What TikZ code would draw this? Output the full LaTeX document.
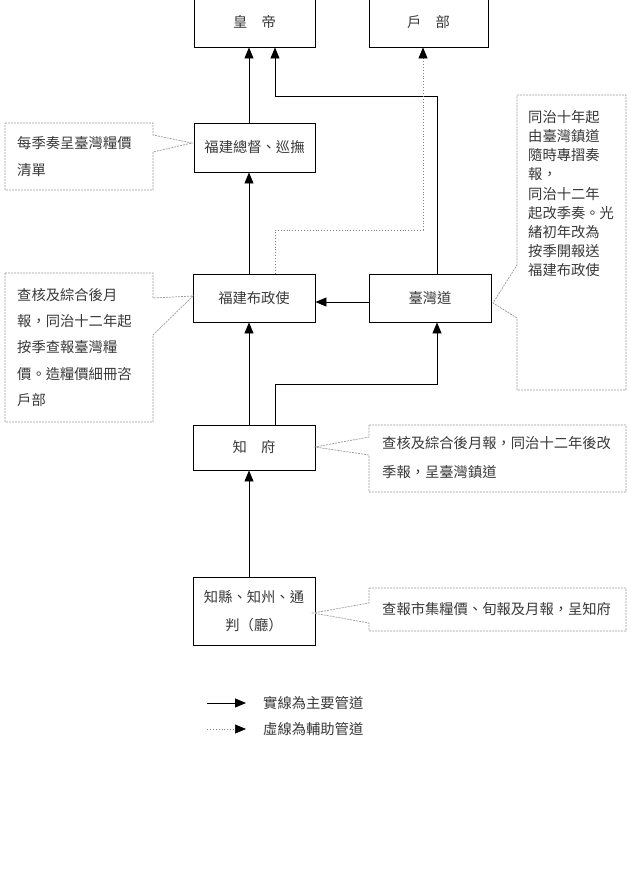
\documentclass[tikz,border=0pt]{standalone}
\usepackage{fontspec}
\newfontfamily\cjk{Noto Sans CJK TC}
\usetikzlibrary{arrows.meta}
\definecolor{txt}{HTML}{383838}
\begin{document}
\begin{tikzpicture}[x=1pt,y=-1pt,
  box/.style={draw, line width=0.9pt, inner sep=0pt, align=center, text=txt,
    font=\cjk\fontsize{14.3}{28}\selectfont},
  arr/.style={-{Triangle[length=11pt,width=9pt,color=black]}, line width=0.9pt},
  dotarr/.style={arr, draw=gray, dotted, line width=0.7pt},
  callout/.style={draw=gray!80, dash pattern=on 2pt off 1pt, line width=0.7pt},
  note/.style={anchor=north west, inner sep=0pt, align=left, text=txt},
  legtext/.style={anchor=west, inner sep=0pt, text=txt, font=\cjk\fontsize{14.3}{16}\selectfont}]
\useasboundingbox (0,0) rectangle (632,876);

% main boxes
\node[box, minimum width=121pt, minimum height=50pt] (hd) at (254.5,22) {皇　帝};
\node[box, minimum width=119pt, minimum height=50pt] (hb) at (428.5,22) {戶　部};
\node[box, minimum width=121pt, minimum height=49pt] (zd) at (254.5,147.5) {福建總督、巡撫};
\node[box, minimum width=122pt, minimum height=48pt] (bz) at (254,298) {福建布政使};
\node[box, minimum width=122pt, minimum height=48pt] (tw) at (430,298) {臺灣道};
\node[box, minimum width=122pt, minimum height=45pt] (zf) at (254,447.5) {知　府};
\node[box, minimum width=122pt, minimum height=68pt] (zx) at (254,611) {知縣、知州、通\\判（廳）};

% helper coordinates
\coordinate (xa) at (249,0);
\coordinate (xb) at (275,0);
\coordinate (k1) at (437,96);
\coordinate (k2) at (423,230);
\coordinate (k3) at (437,384);
\coordinate (ya) at (0,302);

% connectors
\draw[arr] (zd.north -| xa) -- (hd.south -| xa);
\draw[arr] (bz.north -| xa) -- (zd.south -| xa);
\draw[arr] (zf.north -| xa) -- (bz.south -| xa);
\draw[arr] (zx.north -| xa) -- (zf.south -| xa);
\draw[arr] (tw.north -| k1) |- (k1 -| xb) -- (hd.south -| xb);
\draw[dotarr] (bz.north -| xb) |- (k2) -- (hb.south -| k2);
\draw[arr] (zf.north -| xb) |- (k3) -- (tw.south -| k3);
\draw[arr] (tw.west |- ya) -- (bz.east |- ya);

% callouts
\draw[callout] (5,123) -- (153,123) -- (153,135) -- (192,143) -- (153,152) -- (153,190) -- (5,190) -- cycle;
\node[note, font=\cjk\fontsize{14.3}{27}\selectfont] (n1) at (17,136) {每季奏呈臺灣糧價\\清單};

\draw[callout] (5,273) -- (153,273) -- (153,298) -- (193,296) -- (153,335) -- (153,422) -- (5,422) -- cycle;
\node[note, font=\cjk\fontsize{14.3}{26.3}\selectfont] (n2) at (17,288) {查核及綜合後月\\報，同治十二年起\\按季查報臺灣糧\\價。造糧價細冊咨\\戶部};

\draw[callout] (517,95) -- (626,95) -- (626,390) -- (517,390) -- (517,318) -- (493,303) -- (517,265) -- cycle;
\node[note, font=\cjk\fontsize{14.3}{19.2}\selectfont] (n3) at (528,110) {同治十年起\\由臺灣鎮道\\隨時專摺奏\\報，\\同治十二年\\起改季奏。光\\緒初年改為\\按季開報送\\福建布政使};

\draw[callout] (369,425) -- (626,425) -- (626,492) -- (369,492) -- (369,455) -- (315,447) -- (369,437) -- cycle;
\node[note, font=\cjk\fontsize{14.3}{29}\selectfont] (n4) at (382,436) {查核及綜合後月報，同治十二年後改\\季報，呈臺灣鎮道};

\draw[callout] (369,588) -- (626,588) -- (626,631) -- (369,631) -- (369,623) -- (313,613) -- (369,603) -- cycle;
\node[note, font=\cjk\fontsize{14.3}{20}\selectfont] (n5) at (382,602) {查報市集糧價、旬報及月報，呈知府};

% legend
\coordinate (l1a) at (207,703);
\coordinate (l1b) at (246,703);
\coordinate (l2a) at (207,729);
\coordinate (l2b) at (246,729);
\draw[arr] (l1a) -- (l1b);
\draw[dotarr] (l2a) -- (l2b);
\node[legtext] (lg1) at (263,703) {實線為主要管道};
\node[legtext] (lg2) at (263,729) {虛線為輔助管道};
\end{tikzpicture}
\end{document}
